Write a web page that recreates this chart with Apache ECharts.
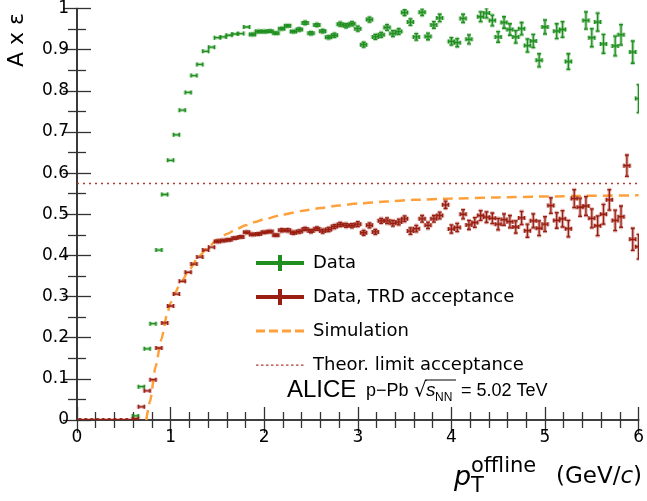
<!DOCTYPE html>
<html>
<head>
<meta charset="utf-8">
<script src="https://cdn.jsdelivr.net/npm/echarts@6/dist/echarts.min.js"></script>
<style>
  html, body { margin: 0; padding: 0; background: #fff; }
  #chart { width: 647px; height: 501px; }
</style>
</head>
<body>
<div id="chart"></div>
<script>
// pT bin centres (GeV/c), bin width 1/16
const ptBins = [
  0, 0.0625, 0.125, 0.1875, 0.25, 0.3125, 0.375, 0.4375, 0.5, 0.5625,
  0.625, 0.6875, 0.75, 0.8125, 0.875, 0.9375, 1, 1.0625, 1.125, 1.1875,
  1.25, 1.3125, 1.375, 1.4375, 1.5, 1.5625, 1.625, 1.6875, 1.75, 1.8125,
  1.875, 1.9375, 2, 2.0625, 2.125, 2.1875, 2.25, 2.3125, 2.375, 2.4375,
  2.5, 2.5625, 2.625, 2.6875, 2.75, 2.8125, 2.875, 2.9375, 3, 3.0625,
  3.125, 3.1875, 3.25, 3.3125, 3.375, 3.4375, 3.5, 3.5625, 3.625, 3.6875,
  3.75, 3.8125, 3.875, 3.9375, 4, 4.0625, 4.125, 4.1875, 4.25, 4.3125,
  4.375, 4.4375, 4.5, 4.5625, 4.625, 4.6875, 4.75, 4.8125, 4.875, 4.9375,
  5, 5.0625, 5.125, 5.1875, 5.25, 5.3125, 5.375, 5.4375, 5.5, 5.5625,
  5.625, 5.6875, 5.75, 5.8125, 5.875, 5.9375, 6
];
const binHalf = 0.03125;

// Data (all)
const effData = [
  null, null, null, null, null, null, null, null, null, null,
  0.010, 0.081, 0.173, 0.234, 0.413, 0.548, 0.631, 0.693, 0.753, 0.796,
  0.837, 0.864, 0.896, 0.906, 0.929, 0.931, 0.935, 0.938, 0.939, 0.955,
  0.937, 0.944, 0.944, 0.945, 0.940, 0.951, 0.958, 0.944, 0.949, 0.965,
  0.940, 0.960, 0.945, 0.930, 0.935, 0.962, 0.958, 0.963, 0.951, 0.912,
  0.973, 0.931, 0.936, 0.954, 0.939, 0.944, 0.990, 0.967, 0.931, 0.991,
  0.932, 0.960, 0.977, null, 0.920, 0.917, 0.976, 0.925, null, 0.980,
  0.989, 0.971, 0.931, 0.966, 0.949, 0.931, 0.951, 0.910, 0.921, 0.874,
  0.955, null, 0.945, 0.949, 0.871, null, null, 0.971, 0.929, 0.967,
  0.914, null, 0.909, 0.936, null, 0.894, 0.781
];
const errData = [
  0, 0, 0, 0, 0, 0, 0, 0, 0, 0,
  0.001, 0.001, 0.002, 0.002, 0.002, 0.002, 0.002, 0.002, 0.002, 0.002,
  0.002, 0.002, 0.002, 0.002, 0.002, 0.002, 0.002, 0.002, 0.002, 0.002,
  0.003, 0.003, 0.003, 0.003, 0.003, 0.003, 0.003, 0.003, 0.004, 0.004,
  0.004, 0.004, 0.004, 0.004, 0.005, 0.005, 0.005, 0.005, 0.006, 0.006,
  0.006, 0.006, 0.006, 0.007, 0.007, 0.007, 0.007, 0.008, 0.008, 0.008,
  0.008, 0.008, 0.009, 0.009, 0.009, 0.010, 0.010, 0.011, 0.012, 0.012,
  0.012, 0.013, 0.013, 0.014, 0.014, 0.015, 0.015, 0.016, 0.016, 0.016,
  0.017, 0.018, 0.018, 0.019, 0.019, 0.020, 0.020, 0.021, 0.022, 0.022,
  0.023, 0.024, 0.024, 0.025, 0.026, 0.027, 0.034
];

// Data, TRD acceptance
const effTrd = [
  0, 0, 0, 0, 0, 0, 0, 0, 0, 0,
  0.003, 0.032, 0.071, 0.098, 0.175, 0.236, 0.277, 0.306, 0.337, 0.359,
  0.379, 0.396, 0.413, 0.420, 0.434, 0.436, 0.438, 0.442, 0.445, 0.456,
  0.451, 0.452, 0.456, 0.458, 0.449, 0.461, 0.461, 0.455, 0.458, 0.464,
  0.459, 0.465, 0.459, 0.463, 0.470, 0.475, 0.473, 0.472, 0.476, 0.455,
  0.473, 0.457, 0.484, 0.484, 0.478, 0.481, 0.489, 0.459, 0.465, 0.489,
  0.473, 0.489, 0.497, 0.523, 0.464, 0.468, 0.500, 0.474, 0.480, 0.497,
  0.493, 0.490, 0.476, 0.487, 0.482, 0.469, 0.491, 0.460, 0.484, 0.466,
  0.476, 0.521, 0.485, 0.489, 0.465, 0.538, 0.517, 0.520, 0.490, 0.472,
  0.500, 0.535, 0.485, 0.494, 0.618, 0.439, 0.421
];
const errTrd = [
  0, 0, 0, 0, 0, 0, 0, 0, 0, 0,
  0.001, 0.001, 0.002, 0.002, 0.002, 0.002, 0.002, 0.002, 0.002, 0.002,
  0.002, 0.002, 0.002, 0.002, 0.003, 0.003, 0.003, 0.003, 0.003, 0.003,
  0.003, 0.003, 0.003, 0.003, 0.003, 0.004, 0.004, 0.004, 0.004, 0.004,
  0.004, 0.004, 0.005, 0.005, 0.005, 0.005, 0.005, 0.005, 0.006, 0.006,
  0.006, 0.006, 0.006, 0.007, 0.007, 0.007, 0.007, 0.008, 0.008, 0.008,
  0.008, 0.008, 0.008, 0.009, 0.010, 0.010, 0.011, 0.011, 0.012, 0.012,
  0.013, 0.013, 0.014, 0.014, 0.015, 0.015, 0.016, 0.016, 0.017, 0.018,
  0.018, 0.019, 0.019, 0.020, 0.020, 0.022, 0.022, 0.023, 0.023, 0.024,
  0.024, 0.025, 0.025, 0.026, 0.026, 0.027, 0.030
];

// Simulation curve
const simPt  = [0.74, 0.78, 0.84, 0.9, 0.96, 1.0, 1.05, 1.1, 1.2, 1.3, 1.4, 1.5, 1.6, 1.7, 1.8, 1.9, 2.0,
                2.2, 2.4, 2.6, 2.8, 3.0, 3.3, 3.6, 4.0, 4.5, 5.0, 5.5, 6.0];
const simEff = [0, 0.045, 0.13, 0.195, 0.255, 0.285, 0.31, 0.33, 0.365, 0.397, 0.42, 0.438, 0.452, 0.463, 0.473, 0.481, 0.488,
                0.499, 0.508, 0.515, 0.521, 0.526, 0.531, 0.535, 0.538, 0.541, 0.543, 0.545, 0.546];

// theoretical acceptance limit
const theorPt  = [0, 6];
const theorEff = [0.575, 0.575];

const GREEN = '#1f8f1f';
const RED = '#9a1e12';
const ORANGE = '#ffa03a';
const LIMIT = '#b03a2e';

function makeData(eff, err) {
  const out = [];
  ptBins.forEach((pt, i) => {
    if (eff[i] != null) out.push([pt, eff[i], err[i]]);
  });
  return out;
}

function errorBars(color) {
  return function (params, api) {
    const x = api.value(0), y = api.value(1), e = api.value(2);
    const l = api.coord([x - binHalf, y]);
    const r = api.coord([x + binHalf, y]);
    const t = api.coord([x, y + e]);
    const b = api.coord([x, y - e]);
    const cap = 2;
    const segs = [
      [l[0], l[1], r[0], r[1]],
      [l[0], l[1] - cap, l[0], l[1] + cap],
      [r[0], r[1] - cap, r[0], r[1] + cap]
    ];
    if (b[1] - t[1] > 2) {
      segs.push([t[0], t[1], b[0], b[1]]);
      segs.push([t[0] - cap, t[1], t[0] + cap, t[1]]);
      segs.push([b[0] - cap, b[1], b[0] + cap, b[1]]);
    }
    const children = [];
    segs.forEach(s => {
      children.push({ type: 'line', shape: { x1: s[0], y1: s[1], x2: s[2], y2: s[3] },
        style: { stroke: color, lineWidth: 3.5, opacity: 0.3 } });
      children.push({ type: 'line', shape: { x1: s[0], y1: s[1], x2: s[2], y2: s[3] },
        style: { stroke: color, lineWidth: 1.3 } });
    });
    return { type: 'group', children: children };
  };
}

// tiny corner specks keep every legend icon's box at 48x16
const box = 'M0,0H0.02V0.02H0Z M47.98,15.98H48V16H47.98Z ';

const chart = echarts.init(document.getElementById('chart'));

const axisFont = { fontFamily: 'DejaVu Sans', fontSize: 17, color: '#000' };
const frameLine = { show: true, lineStyle: { color: '#333', width: 1.6 } };

chart.setOption({
  animation: false,
  backgroundColor: '#fff',
  grid: { left: 77, right: 6, top: 8, bottom: 81 },
  legend: {
    orient: 'vertical',
    left: 251,
    top: 248,
    itemWidth: 48,
    itemHeight: 16,
    itemGap: 14,
    symbolKeepAspect: false,
    itemStyle: { borderWidth: 0 },
    textStyle: { fontFamily: 'DejaVu Sans', fontSize: 18, color: '#000', lineHeight: 20, padding: [0, 0, 0, 4] },
    data: [
      { name: 'Data', icon: 'path://' + box + 'M0,6H48V10H0Z M22,0H26V16H22Z' },
      { name: 'Data, TRD acceptance', icon: 'path://' + box + 'M0,6H48V10H0Z M22,0H26V16H22Z' },
      { name: 'Simulation', icon: 'path://' + box + 'M0,6.5H9V9.5H0Z M13,6.5H22V9.5H13Z M26,6.5H35V9.5H26Z M39,6.5H48V9.5H39Z' },
      { name: 'Theor. limit acceptance', icon: 'path://' + box + 'M0,7.5H2.5V8.7H0Z M5,7.5H7.5V8.7H5Z M10,7.5H12.5V8.7H10Z M15,7.5H17.5V8.7H15Z M20,7.5H22.5V8.7H20Z M25,7.5H27.5V8.7H25Z M30,7.5H32.5V8.7H30Z M35,7.5H37.5V8.7H35Z M40,7.5H42.5V8.7H40Z M45,7.5H47.5V8.7H45Z' }
    ]
  },
  xAxis: [{
    type: 'value', min: 0, max: 6, interval: 1, position: 'bottom',
    axisLine: frameLine,
    axisTick: { show: true, inside: true, length: 13, lineStyle: { color: '#333', width: 1.3 } },
    minorTick: { show: true, splitNumber: 5, length: 8, lineStyle: { color: '#333', width: 1.3 } },
    splitLine: { show: false },
    axisLabel: Object.assign({ margin: 9 }, axisFont)
  }, {
    type: 'value', min: 0, max: 6, interval: 1, position: 'top',
    axisLine: frameLine,
    axisTick: { show: true, inside: true, length: 13, lineStyle: { color: '#333', width: 1.3 } },
    minorTick: { show: true, splitNumber: 5, length: 8, lineStyle: { color: '#333', width: 1.3 } },
    splitLine: { show: false },
    axisLabel: { show: false }
  }],
  yAxis: [{
    type: 'value', min: 0, max: 1, interval: 0.1, position: 'left',
    axisLine: frameLine,
    axisTick: { show: true, inside: true, length: 14, lineStyle: { color: '#333', width: 1.3 } },
    minorTick: { show: true, splitNumber: 2, length: 9, lineStyle: { color: '#333', width: 1.3 } },
    splitLine: { show: false },
    axisLabel: Object.assign({ margin: 8 }, axisFont)
  }, {
    type: 'value', min: 0, max: 1, interval: 0.1, position: 'right',
    axisLine: frameLine,
    axisTick: { show: true, inside: true, length: 14, lineStyle: { color: '#333', width: 1.3 } },
    minorTick: { show: true, splitNumber: 2, length: 9, lineStyle: { color: '#333', width: 1.3 } },
    splitLine: { show: false },
    axisLabel: { show: false }
  }],
  series: [{
    name: 'Data',
    type: 'custom',
    clip: true,
    itemStyle: { color: GREEN },
    renderItem: errorBars(GREEN),
    encode: { x: 0, y: 1 },
    data: makeData(effData, errData),
    z: 4
  }, {
    name: 'Data, TRD acceptance',
    type: 'custom',
    clip: true,
    itemStyle: { color: RED },
    renderItem: errorBars(RED),
    encode: { x: 0, y: 1 },
    data: makeData(effTrd, errTrd),
    z: 4
  }, {
    name: 'Simulation',
    type: 'line',
    smooth: 0.2,
    smoothMonotone: 'x',
    symbol: 'none',
    clip: true,
    color: ORANGE,
    itemStyle: { color: ORANGE },
    lineStyle: { color: ORANGE, width: 2.5, type: [10, 6] },
    data: simPt.map((p, i) => [p, simEff[i]]),
    z: 3
  }, {
    name: 'Theor. limit acceptance',
    type: 'line',
    symbol: 'none',
    color: LIMIT,
    itemStyle: { color: LIMIT },
    lineStyle: { color: LIMIT, width: 1.5, type: [2, 4] },
    data: theorPt.map((p, i) => [p, theorEff[i]]),
    z: 2
  }],
  graphic: [
    // y axis title
    { type: 'text', x: 17, y: 40, rotation: Math.PI / 2,
      style: { text: 'A x ε', font: '22px "DejaVu Sans"', fill: '#000', align: 'center', verticalAlign: 'middle' } },
    // x axis title
    { type: 'text', x: 454, y: 478,
      style: { text: 'p', font: 'italic 27px "DejaVu Sans"', fill: '#000', align: 'left', verticalAlign: 'middle' } },
    { type: 'text', x: 471, y: 467,
      style: { text: 'offline', font: '21px "DejaVu Sans"', fill: '#000', align: 'left', verticalAlign: 'middle' } },
    { type: 'text', x: 471, y: 487,
      style: { text: 'T', font: '21px "DejaVu Sans"', fill: '#000', align: 'left', verticalAlign: 'middle' } },
    { type: 'text', x: 556, y: 477,
      style: { text: '(GeV/{i|c})', font: '23px "DejaVu Sans"', fill: '#000', align: 'left', verticalAlign: 'middle',
        rich: { i: { font: 'italic 23px "DejaVu Sans"' } } } },
    // collision system text
    { type: 'text', x: 287, y: 390,
      style: { text: 'ALICE', font: '24px "Liberation Sans"', fill: '#000', align: 'left', verticalAlign: 'middle' } },
    { type: 'text', x: 366, y: 391,
      style: { text: 'p\u2212Pb', font: '18px "Liberation Sans"', fill: '#000', align: 'left', verticalAlign: 'middle' } },
    { type: 'text', x: 414, y: 391,
      style: { text: '\u221A', font: '20px "DejaVu Sans"', fill: '#000', align: 'left', verticalAlign: 'middle' } },
    { type: 'line', shape: { x1: 425, y1: 380, x2: 456, y2: 380 }, style: { stroke: '#000', lineWidth: 1 } },
    { type: 'text', x: 426, y: 391,
      style: { text: 's', font: 'italic 19px "Liberation Sans"', fill: '#000', align: 'left', verticalAlign: 'middle' } },
    { type: 'text', x: 435, y: 398,
      style: { text: 'NN', font: '12px "Liberation Sans"', fill: '#000', align: 'left', verticalAlign: 'middle' } },
    { type: 'text', x: 461, y: 391,
      style: { text: '= 5.02 TeV', font: '18px "Liberation Sans"', fill: '#000', align: 'left', verticalAlign: 'middle' } }
  ]
});
</script>
</body>
</html>
